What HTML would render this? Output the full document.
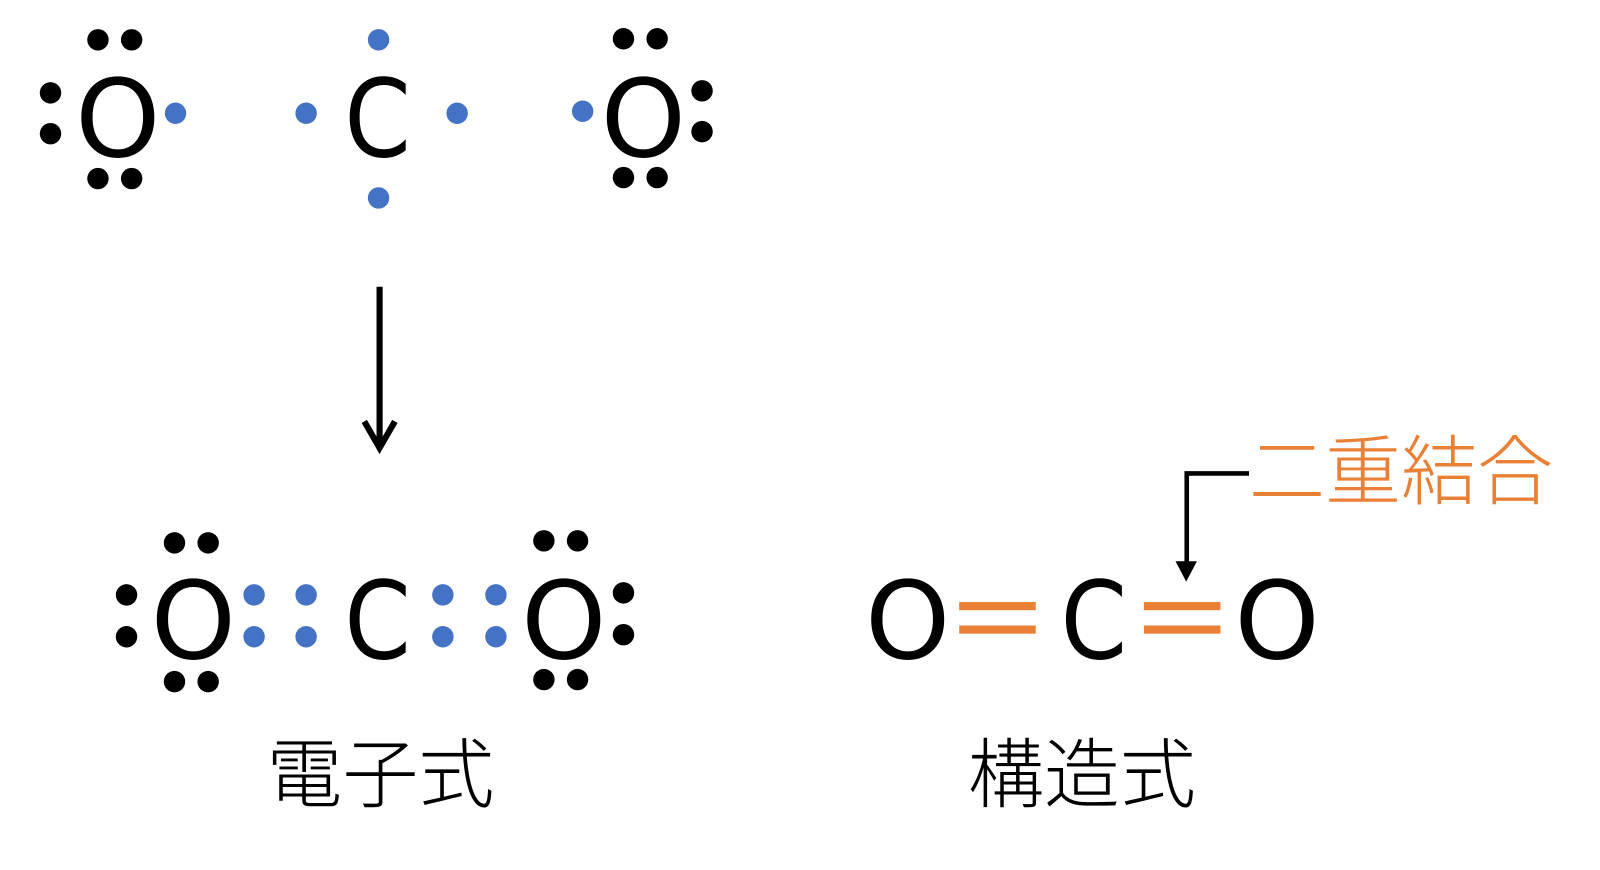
<!DOCTYPE html>
<html><head><meta charset="utf-8"><style>
html,body{margin:0;padding:0;background:#fff;width:1600px;height:870px;overflow:hidden}
svg{display:block}
.a{font-family:"DejaVu Sans",sans-serif;font-size:106px;fill:#000;text-anchor:middle}
.j{font-family:"Liberation Sans","Noto Sans CJK JP",sans-serif;font-size:74.5px;font-weight:300}
.k circle{fill:#000}
.b circle{fill:#4472c4}
</style></head><body>
<svg width="1600" height="870" viewBox="0 0 1600 870" xmlns="http://www.w3.org/2000/svg">
<g transform="scale(1.02041)">
<g class="a">
<text x="115.500" y="153.500">O</text>
<text transform="translate(370,153.500) scale(.88,1)">C</text>
<text x="630.500" y="153.500">O</text>
<text x="189.500" y="645.500">O</text>
<text transform="translate(370,645.500) scale(.88,1)">C</text>
<text x="552.500" y="645.500">O</text>
<text x="889.500" y="645.500">O</text>
<text transform="translate(1072,645.500) scale(.88,1)">C</text>
<text x="1251.500" y="645.500">O</text>
</g>
<g class="k">
<circle cx="96" cy="39" r="10.5"/><circle cx="129" cy="39" r="10.5"/>
<circle cx="49.500" cy="91" r="10.5"/><circle cx="49.500" cy="131" r="10.5"/>
<circle cx="96" cy="175" r="10.5"/><circle cx="129" cy="175" r="10.5"/>
<circle cx="611" cy="38" r="10.5"/><circle cx="644" cy="38" r="10.5"/>
<circle cx="688" cy="89" r="10.5"/><circle cx="688" cy="129" r="10.5"/>
<circle cx="611" cy="174" r="10.5"/><circle cx="644" cy="174" r="10.5"/>
<circle cx="171" cy="532" r="10.5"/><circle cx="204" cy="532" r="10.5"/>
<circle cx="124" cy="583" r="10.5"/><circle cx="124" cy="624" r="10.5"/>
<circle cx="171" cy="668" r="10.5"/><circle cx="204" cy="668" r="10.5"/>
<circle cx="533" cy="530" r="10.5"/><circle cx="566" cy="530" r="10.5"/>
<circle cx="611" cy="581" r="10.5"/><circle cx="611" cy="622" r="10.5"/>
<circle cx="533" cy="666" r="10.5"/><circle cx="566" cy="666" r="10.5"/>
</g>
<g class="b">
<circle cx="172" cy="111" r="10.5"/>
<circle cx="371" cy="39" r="10.5"/><circle cx="300" cy="111" r="10.5"/>
<circle cx="448" cy="111" r="10.5"/><circle cx="371" cy="194" r="10.5"/>
<circle cx="571" cy="109" r="10.5"/>
<circle cx="249" cy="583" r="10.5"/><circle cx="249" cy="624" r="10.5"/>
<circle cx="300" cy="583" r="10.5"/><circle cx="300" cy="624" r="10.5"/>
<circle cx="434" cy="583" r="10.5"/><circle cx="434" cy="624" r="10.5"/>
<circle cx="486" cy="583" r="10.5"/><circle cx="486" cy="624" r="10.5"/>
</g>
<path d="M372 281V438" stroke="#000" stroke-width="6" fill="none"/>
<path d="M357 413L372 439L387 413" stroke="#000" stroke-width="6" fill="none"/>
<path d="M1224 464H1163V555" stroke="#000" stroke-width="4.500" fill="none"/>
<path d="M1152 550H1173L1162.500 570Z" fill="#000"/>
<g fill="#ea7f36">
<rect x="940" y="590" width="75" height="8"/><rect x="940" y="613" width="75" height="8"/>
<rect x="1121" y="590" width="75" height="8"/><rect x="1121" y="613" width="75" height="8"/>
</g>
<text class="j" x="261" y="785.500" fill="#000">電子式</text>
<text class="j" x="948.500" y="785.500" fill="#000">構造式</text>
<text class="j" x="1224" y="488.500" fill="#ea7f36">二重結合</text>
</g>
</svg>
</body></html>
